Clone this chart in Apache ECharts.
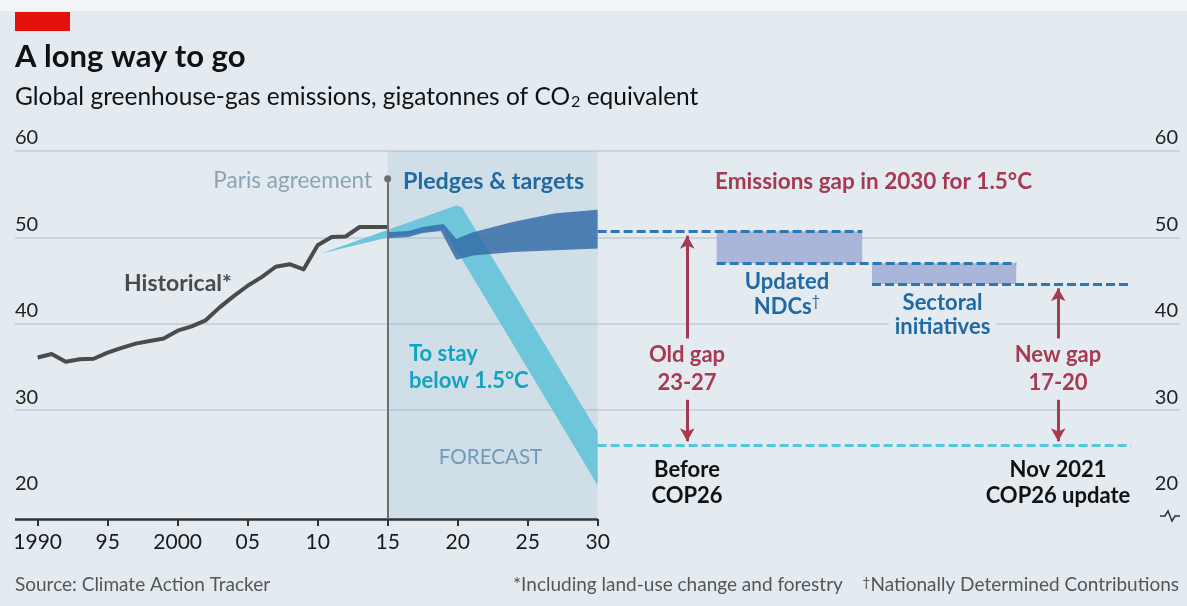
<!DOCTYPE html>
<html>
<head>
<meta charset="utf-8">
<title>A long way to go</title>
<script src="https://cdn.jsdelivr.net/npm/echarts@6.0.0/dist/echarts.min.js"></script>
<style>
  html, body { margin: 0; padding: 0; background: #e3ebf1; }
  #chart { width: 1187px; height: 606px; }
</style>
</head>
<body>
<div id="chart"></div>
<script>
// values, gigatonnes of CO2 equivalent
var histYears = [1990, 1991, 1992, 1993, 1994, 1995, 1996, 1997, 1998, 1999, 2000, 2001, 2002,
  2003, 2004, 2005, 2006, 2007, 2008, 2009, 2010, 2011, 2012, 2013, 2014, 2015];
var histValues = [36.1, 36.5, 35.6, 35.9, 35.95, 36.65, 37.2, 37.7, 38.0, 38.3, 39.2, 39.7, 40.4,
  41.9, 43.2, 44.4, 45.4, 46.6, 46.9, 46.3, 49.1, 50.05, 50.1, 51.2, 51.2, 51.2];

// "To stay below 1.5C" band, [year, value]
var paleUpper = [[2010.2, 48.1], [2019.9, 53.7], [2020.3, 53.5], [2030, 27.5]];
var paleLower = [[2010.2, 48.1], [2015, 50.0], [2019, 51.0], [2030, 21.3]];

// "Pledges & targets" band
var pledgeUpper = [[2015, 50.6], [2016.5, 50.75], [2017.5, 51.2], [2019, 51.55], [2019.9, 49.8],
  [2021.1, 50.6], [2024, 51.8], [2027, 52.8], [2030, 53.2]];
var pledgeLower = [[2015, 49.9], [2016.5, 50.05], [2017.5, 50.5], [2018.8, 50.75], [2019.9, 47.4],
  [2021.1, 47.9], [2024, 48.3], [2030, 48.7]];

// emissions gap steps in 2030 (drawn to the right of the time axis)
var stepStart = [2030, 2038.5, 2049.6];
var stepEnd = [2048.9, 2059.9, 2068.1];
var stepLevel = [50.7, 47.0, 44.6];
var targetLevel = 25.9;       // 1.5C pathway in 2030
var gapArrowX = [2036.4, 2062.9];  // old gap, new gap
var gapArrowTop = [50.2, 44.1];
var gapArrowMid = [38.3, 31.2];
var gapArrowBottom = 26.4;

var parisYear = 2015;
var parisTop = 56.8;
var forecastRange = [2015, 2030];

var xTickYears = [1990, 1995, 2000, 2005, 2010, 2015, 2020, 2025, 2030];
var yTicks = [20, 30, 40, 50, 60];

var X_MIN = 1988.38, X_MAX = 2071.6;
var Y_MIN = 17.4, Y_MAX = 60;
var FONT = 'Lato, "Noto Sans", sans-serif';
var BG = '#e3ebf1';
var BLUE = '#1f6aa5';
var CRIMSON = '#a63a50';

var chart = echarts.init(document.getElementById('chart'), null, { renderer: 'canvas' });

function yearLabel(v) {
  if (v === 1990 || v === 2000) return String(v);
  return String(v).slice(2);
}

// polygon between two edges, converted with the grid's scales
function bandSeries(upper, lower, color, opacity, z) {
  return {
    type: 'custom',
    coordinateSystem: 'cartesian2d',
    silent: true,
    z: z,
    data: [upper[0]],
    renderItem: function (params, api) {
      var pts = [];
      upper.forEach(function (p) { pts.push(api.coord(p)); });
      lower.slice().reverse().forEach(function (p) { pts.push(api.coord(p)); });
      return {
        type: 'polygon',
        shape: { points: pts },
        style: { fill: color, opacity: opacity }
      };
    }
  };
}

function seg(x1, y1, x2, y2, style, symbols) {
  return [
    { coord: [x1, y1], lineStyle: style, symbol: symbols ? symbols[0] : 'none' },
    { coord: [x2, y2], symbol: symbols ? symbols[1] : 'none' }
  ];
}

function markerSeries(z, markLine, markArea) {
  var s = { type: 'line', data: [], silent: true, clip: false, z: z };
  if (markLine) {
    s.markLine = {
      silent: true, symbol: 'none', label: { show: false },
      emphasis: { disabled: true }, animation: false, data: markLine
    };
  }
  if (markArea) {
    s.markArea = {
      silent: true, label: { show: false },
      emphasis: { disabled: true }, data: markArea.data, itemStyle: markArea.itemStyle
    };
  }
  return s;
}

function txt(text, x, y, font, color, align, extra) {
  var style = {
    text: text, font: font, fill: color,
    align: align || 'left', verticalAlign: 'middle'
  };
  for (var k in extra) style[k] = extra[k];
  return { type: 'text', x: x, y: y, z: 100, style: style, silent: true };
}

// dashed steps + shaded gaps
var dashBlue = { color: '#2a78b8', width: 3, type: [9, 4] };
var stepLines = [];
for (var i = 0; i < stepLevel.length; i++) {
  stepLines.push(seg(stepStart[i], stepLevel[i], stepEnd[i], stepLevel[i], dashBlue));
}
var gapRects = [];
for (var j = 1; j < stepLevel.length; j++) {
  gapRects.push([{ coord: [stepStart[j], stepLevel[j - 1]] }, { coord: [stepEnd[j - 1], stepLevel[j]] }]);
}

var arrowStyle = { color: CRIMSON, width: 3, type: 'solid' };
var arrows = [];
for (var a = 0; a < gapArrowX.length; a++) {
  arrows.push(seg(gapArrowX[a], gapArrowMid[0], gapArrowX[a], gapArrowTop[a], arrowStyle, ['none', 'arrow']));
  arrows.push(seg(gapArrowX[a], gapArrowMid[1], gapArrowX[a], gapArrowBottom, arrowStyle, ['none', 'arrow']));
}

var option = {
  backgroundColor: BG,
  animation: false,
  textStyle: { fontFamily: FONT },
  grid: { left: 15, right: 7, top: 151, bottom: 87, containLabel: false, outerBoundsMode: 'none' },
  xAxis: {
    type: 'value', min: X_MIN, max: X_MAX,
    axisLine: { show: false },
    axisTick: { show: true, customValues: xTickYears, length: 7, lineStyle: { color: '#333', width: 2 } },
    axisLabel: { customValues: xTickYears, formatter: yearLabel, color: '#1a1a1a', fontSize: 21, margin: 13, fontFamily: FONT },
    splitLine: { show: false }
  },
  yAxis: [{
    type: 'value', min: Y_MIN, max: Y_MAX, position: 'left',
    axisLine: { show: false },
    axisTick: { show: false, customValues: yTicks },
    axisLabel: {
      customValues: yTicks, inside: true, margin: 0, align: 'left', verticalAlign: 'bottom',
      padding: [0, 0, 3, 0], color: '#222', fontSize: 20, fontFamily: FONT
    },
    splitLine: { show: true, showMinLine: false, lineStyle: { color: '#c3ccd3', width: 1.5 } }
  }, {
    type: 'value', min: Y_MIN, max: Y_MAX, position: 'right',
    axisLine: { show: false },
    axisTick: { show: false, customValues: yTicks },
    axisLabel: {
      customValues: yTicks, inside: true, margin: 2, align: 'right', verticalAlign: 'bottom',
      padding: [0, 0, 3, 0], color: '#222', fontSize: 20, fontFamily: FONT
    },
    splitLine: { show: false }
  }],
  series: [
    // forecast shading
    markerSeries(1, null, {
      data: [[{ xAxis: forecastRange[0] }, { xAxis: forecastRange[1] }]],
      itemStyle: { color: 'rgba(150,180,206,0.24)' }
    }),
    bandSeries(paleUpper, paleLower, '#6ec6da', 1, 2),
    bandSeries(pledgeUpper, pledgeLower, '#2f6aa6', 0.82, 3),
    {
      type: 'line', name: 'Historical', z: 4, silent: true,
      data: histYears.map(function (y, k) { return [y, histValues[k]]; }),
      symbol: 'none',
      lineStyle: { color: '#4b4b4b', width: 4, join: 'round' }
    },
    markerSeries(3, null, { data: gapRects, itemStyle: { color: '#a9b5d9' } }),
    markerSeries(4, stepLines.concat([
      seg(forecastRange[1], targetLevel, stepEnd[stepEnd.length - 1], targetLevel, { color: '#56c6dc', width: 3, type: [9, 4] })
    ])),
    (function () {
      var s = markerSeries(5, arrows);
      s.markLine.symbolSize = [11, 13];
      return s;
    })(),
    (function () {
      var s = markerSeries(6, [
        seg(X_MIN, Y_MIN, forecastRange[1], Y_MIN, { color: '#333', width: 2.5, type: 'solid' }),
        seg(parisYear, Y_MIN, parisYear, parisTop, { color: '#6e6e6e', width: 2, type: 'solid' }, ['none', 'circle'])
      ]);
      s.markLine.symbolSize = 7;
      s.markLine.itemStyle = { color: '#6e6e6e' };
      return s;
    })()
  ],
  graphic: [
    { type: 'rect', shape: { x: 0, y: 0, width: 1187, height: 11 }, style: { fill: '#f1f5f8' }, silent: true },
    { type: 'rect', shape: { x: 15, y: 12, width: 55, height: 19 }, style: { fill: '#e3120b' }, silent: true },
    txt('A long way to go', 15, 57, 'bold 31px ' + FONT, '#111'),
    txt('{t|Global greenhouse-gas emissions, gigatonnes of CO}{s|2}{t| equivalent}', 15, 97, '24.5px ' + FONT, '#111', 'left', {
      rich: {
        t: { fontSize: 24.5, fontFamily: FONT, fill: '#111' },
        s: { fontSize: 16, fontFamily: FONT, fill: '#111', verticalAlign: 'bottom', padding: [0, 0, 0, 1] }
      }
    }),
    txt('Paris agreement', 372, 181, '22.5px ' + FONT, '#8ea4b4', 'right'),
    txt('Pledges & targets', 403, 181, 'bold 23.3px ' + FONT, BLUE),
    txt('Emissions gap in 2030 for 1.5°C', 715, 181.5, 'bold 22.5px ' + FONT, CRIMSON),
    txt('Historical*', 124, 283.5, 'bold 23px ' + FONT, '#4a4a4a'),
    txt('To stay\nbelow 1.5°C', 409, 367, 'bold 22px ' + FONT, '#12a3c3', 'left', { lineHeight: 27 }),
    txt('FORECAST', 490.5, 457.5, '20.6px ' + FONT, '#6d9cba', 'center'),
    txt('{b|Updated}\n{b|NDCs}{s|†}', 787, 294, 'bold 22px ' + FONT, BLUE, 'center', {
      rich: {
        b: { fontSize: 22, fontWeight: 'bold', fontFamily: FONT, fill: BLUE, lineHeight: 25 },
        s: { fontSize: 15, fontFamily: FONT, fill: BLUE, verticalAlign: 'top', lineHeight: 25 }
      }
    }),
    txt('Sectoral\ninitiatives', 942.5, 315, 'bold 22px ' + FONT, BLUE, 'center', {
      lineHeight: 24, backgroundColor: BG, padding: [0, 6]
    }),
    txt('Old gap\n23-27', 687, 369, 'bold 22px ' + FONT, CRIMSON, 'center', { lineHeight: 28 }),
    txt('New gap\n17-20', 1058, 369, 'bold 22px ' + FONT, CRIMSON, 'center', { lineHeight: 28 }),
    txt('Before\nCOP26', 687, 483, 'bold 22px ' + FONT, '#111', 'center', {
      lineHeight: 26, backgroundColor: BG, padding: [0, 10]
    }),
    txt('Nov 2021\nCOP26 update', 1058, 483, 'bold 22px ' + FONT, '#111', 'center', {
      lineHeight: 26, backgroundColor: BG, padding: [0, 10]
    }),
    // broken axis mark, right side
    {
      type: 'polyline', silent: true,
      shape: { points: [[1160, 516], [1165, 516], [1168, 511], [1172, 521], [1175, 516], [1180, 516]] },
      style: { stroke: '#333', lineWidth: 1.5, fill: null }
    },
    txt('Source: Climate Action Tracker', 15, 585, '19px ' + FONT, '#555'),
    txt('{t|*Including land-use change and forestry    }{s|†}{t|Nationally Determined Contributions}', 1179, 585, '19px ' + FONT, '#555', 'right', {
      rich: {
        t: { fontSize: 19, fontFamily: FONT, fill: '#555' },
        s: { fontSize: 14, fontFamily: FONT, fill: '#555', verticalAlign: 'top' }
      }
    })
  ]
};

chart.setOption(option);
</script>
</body>
</html>
